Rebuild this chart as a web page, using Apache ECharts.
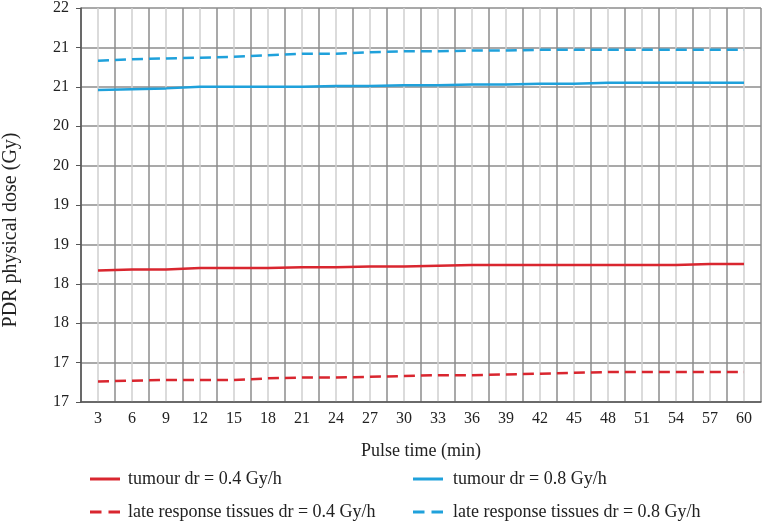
<!DOCTYPE html>
<html>
<head>
<meta charset="utf-8">
<script src="https://cdn.jsdelivr.net/npm/echarts@6/dist/echarts.min.js"></script>
<style>
  html, body { margin: 0; padding: 0; background: #fff; }
  #chart { width: 762px; height: 523px; }
</style>
</head>
<body>
<div id="chart"></div>
<script>
// pulse times (min)
const pulseTimes = [3, 6, 9, 12, 15, 18, 21, 24, 27, 30, 33, 36, 39, 42, 45, 48, 51, 54, 57, 60];

// PDR physical dose (Gy)
const tumour04 = [18.67, 18.68, 18.68, 18.70, 18.70, 18.70, 18.71, 18.71, 18.72, 18.72,
                  18.73, 18.74, 18.74, 18.74, 18.74, 18.74, 18.74, 18.74, 18.75, 18.75];
const late04 = [17.26, 17.27, 17.28, 17.28, 17.28, 17.30, 17.31, 17.31, 17.32, 17.33,
                17.34, 17.34, 17.35, 17.36, 17.37, 17.38, 17.38, 17.38, 17.38, 17.38];
const tumour08 = [20.96, 20.97, 20.98, 21.00, 21.00, 21.00, 21.00, 21.01, 21.01, 21.02,
                  21.02, 21.03, 21.03, 21.04, 21.04, 21.05, 21.05, 21.05, 21.05, 21.05];
const late08 = [21.33, 21.35, 21.36, 21.37, 21.38, 21.40, 21.42, 21.42, 21.44, 21.45,
                21.45, 21.46, 21.46, 21.47, 21.47, 21.47, 21.47, 21.47, 21.47, 21.47];

// y tick labels as printed in the original (17 .. 22 by 0.5)
const yTickLabels = ['17', '17', '18', '18', '19', '19', '20', '20', '21', '21', '22'];

const seriesNames = [
  'tumour dr = 0.4 Gy/h',
  'late response tissues dr = 0.4 Gy/h',
  'tumour dr = 0.8 Gy/h',
  'late response tissues dr = 0.8 Gy/h'
];

const RED = '#d9262f';
const BLUE = '#1fa1db';
const FONT = 'Liberation Serif';
const TXT = '#222';

// legend icons drawn as flat bars (solid / two dashes)
const SOLID_ICON = 'path://M0,0H30V3H0Z';
const DASH_ICON = 'path://M0,0H11.5V3H0Z M18.5,0H30V3H18.5Z';

const chart = echarts.init(document.getElementById('chart'));

const mkLine = (name, data, color, dashed) => ({
  name: name,
  type: 'line',
  data: data,
  symbol: 'none',
  xAxisIndex: 0,
  z: 5,
  lineStyle: { color: color, width: 2.5, type: dashed ? [11, 6] : 'solid' },
  itemStyle: { color: color }
});

const mkLegend = (name, icon, left, top, gap) => ({
  data: [name],
  icon: icon,
  left: left,
  top: top,
  padding: 0,
  itemWidth: 30,
  itemHeight: 3,
  itemStyle: { borderWidth: 0 },
  textStyle: { fontFamily: FONT, fontSize: 18, lineHeight: 20, color: TXT, padding: [0, 0, 0, gap] }
});

const option = {
  backgroundColor: '#fff',
  animation: false,
  grid: { left: 81, right: 1, top: 8, bottom: 121 },
  legend: [
    mkLegend(seriesNames[0], SOLID_ICON, 90, 469, 3),
    mkLegend(seriesNames[1], DASH_ICON, 90, 502, 3),
    mkLegend(seriesNames[2], SOLID_ICON, 413, 469, 5),
    mkLegend(seriesNames[3], DASH_ICON, 413, 502, 5)
  ],
  graphic: [
    {
      type: 'text',
      x: 11, y: 230,
      rotation: Math.PI / 2,
      style: {
        text: 'PDR physical dose (Gy)',
        fontFamily: FONT, fontSize: 20, fill: TXT,
        align: 'center', verticalAlign: 'middle'
      }
    }
  ],
  xAxis: [
    {
      type: 'category',
      data: pulseTimes,
      boundaryGap: true,
      name: 'Pulse time (min)',
      nameLocation: 'middle',
      nameGap: 40,
      nameTextStyle: { fontFamily: FONT, fontSize: 18, color: TXT },
      axisLine: { lineStyle: { color: '#555', width: 1.5 } },
      axisTick: { show: false },
      axisLabel: { fontFamily: FONT, fontSize: 16, color: TXT, margin: 9 },
      splitLine: { show: false }
    },
    {
      // helper axis, only for the dark/light vertical grid
      type: 'value',
      position: 'top',
      min: 0, max: 20, interval: 1,
      axisLine: { show: false },
      axisTick: { show: false },
      axisLabel: { show: false },
      splitLine: { show: true, lineStyle: { color: '#8c8c8c', width: 1.5 } },
      minorTick: { show: false, splitNumber: 2 },
      minorSplitLine: { show: true, lineStyle: { color: '#d0d0d0', width: 1.5 } }
    }
  ],
  yAxis: {
    type: 'value',
    min: 17, max: 22, interval: 0.5,
    axisLine: { show: true, lineStyle: { color: '#555', width: 1.5 } },
    axisTick: { show: true, length: 5, lineStyle: { color: '#555' } },
    axisLabel: {
      fontFamily: FONT, fontSize: 16, color: TXT, margin: 12,
      formatter: (v) => yTickLabels[Math.round((v - 17) / 0.5)]
    },
    splitLine: { show: true, lineStyle: { color: '#8c8c8c', width: 1.5 } }
  },
  series: [
    mkLine(seriesNames[0], tumour04, RED, false),
    mkLine(seriesNames[1], late04, RED, true),
    mkLine(seriesNames[2], tumour08, BLUE, false),
    mkLine(seriesNames[3], late08, BLUE, true)
  ]
};

chart.setOption(option);
</script>
</body>
</html>
